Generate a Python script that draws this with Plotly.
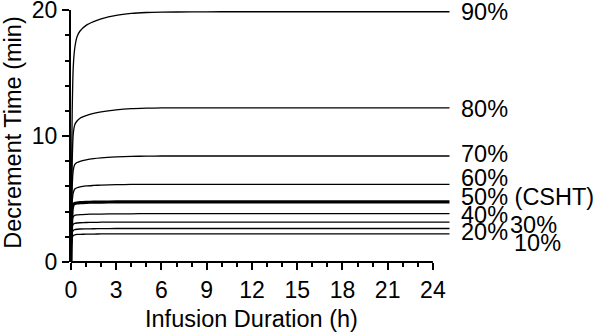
import plotly.graph_objects as go

# ---- data ----
hours = [0, 0.03, 0.08, 0.15, 0.25, 0.4, 0.6, 1, 1.5, 2, 3, 4, 5, 6, 8, 10, 12, 15, 18, 21, 24, 25.1]

dt_90 = [0, 6.0, 12.0, 15.5, 17.0, 17.9, 18.35, 18.8, 19.1, 19.32, 19.6, 19.75, 19.82, 19.85, 19.87, 19.88, 19.88, 19.88, 19.88, 19.88, 19.88, 19.88]
dt_80 = [0, 4.0, 8.0, 10.2, 10.9, 11.2, 11.42, 11.62, 11.8, 11.92, 12.08, 12.18, 12.22, 12.24, 12.25, 12.25, 12.25, 12.25, 12.25, 12.25, 12.25, 12.25]
dt_70 = [0, 3.0, 6.0, 7.3, 7.75, 7.9, 8.0, 8.12, 8.22, 8.28, 8.35, 8.39, 8.41, 8.42, 8.42, 8.42, 8.42, 8.42, 8.42, 8.42, 8.42, 8.42]
dt_60 = [0, 2.5, 4.8, 5.5, 5.8, 5.9, 5.97, 6.04, 6.08, 6.11, 6.14, 6.16, 6.17, 6.17, 6.17, 6.17, 6.17, 6.17, 6.17, 6.17, 6.17, 6.17]
dt_50 = [0, 2.5, 4.2, 4.55, 4.65, 4.69, 4.72, 4.74, 4.75, 4.76, 4.77, 4.77, 4.77, 4.77, 4.77, 4.77, 4.77, 4.77, 4.77, 4.77, 4.77, 4.77]
dt_40 = [0, 2.0, 3.3, 3.6, 3.7, 3.74, 3.77, 3.79, 3.8, 3.81, 3.82, 3.83, 3.84, 3.84, 3.84, 3.84, 3.84, 3.84, 3.84, 3.84, 3.84, 3.84]
dt_30 = [0, 1.8, 2.8, 3.0, 3.07, 3.1, 3.12, 3.14, 3.15, 3.16, 3.17, 3.17, 3.17, 3.17, 3.17, 3.17, 3.17, 3.17, 3.17, 3.17, 3.17, 3.17]
dt_20 = [0, 1.5, 2.3, 2.5, 2.57, 2.6, 2.62, 2.63, 2.64, 2.65, 2.66, 2.66, 2.66, 2.66, 2.66, 2.66, 2.66, 2.66, 2.66, 2.66, 2.66, 2.66]
dt_10 = [0, 1.3, 1.9, 2.1, 2.16, 2.19, 2.2, 2.21, 2.22, 2.23, 2.24, 2.24, 2.24, 2.24, 2.24, 2.24, 2.24, 2.24, 2.24, 2.24, 2.24, 2.24]

series_names = ["90%", "80%", "70%", "60%", "50% (CSHT)", "40%", "30%", "20%", "10%"]
series_values = [dt_90, dt_80, dt_70, dt_60, dt_50, dt_40, dt_30, dt_20, dt_10]

x_major_ticks = [0, 3, 6, 9, 12, 15, 18, 21, 24]
x_minor_ticks = [h for h in range(0, 25) if h % 3 != 0]
y_major_ticks = [0, 10, 20]
y_minor_ticks = [2, 4, 6, 8, 12, 14, 16, 18]

# ---- layout constants ----
W, H = 597, 334
ML, MR, MT, MB = 71, 146.4, 10, 71.5
X_RANGE = [0, 25.2]
Y_RANGE = [0, 20.02]
FONT = "Arial, Liberation Sans, sans-serif"
TICK_SIZE = 23
LABEL_SIZE = 23.5
TITLE_SIZE = 23.5

# label placement: (data y of label centre, pixel x of left edge)
label_pos = [(19.85, 459), (12.16, 459), (8.56, 459), (6.65, 459), (5.15, 459),
             (3.75, 459), (2.95, 508), (2.35, 459), (1.5, 512)]

fig = go.Figure()
for name, vals in zip(series_names, series_values):
    width = 3.2 if "CSHT" in name else 1.3
    fig.add_trace(go.Scatter(x=hours, y=vals, mode="lines", name=name,
                             line=dict(color="black", width=width, shape="spline", smoothing=0.6),
                             showlegend=False, hoverinfo="skip"))

plot_w = W - ML - MR
plot_h = H - MT - MB
annotations = []
for name, (ly, px) in zip(series_names, label_pos):
    annotations.append(dict(text=name, xref="paper", yref="y", x=(px - ML) / plot_w, y=ly,
                            xanchor="left", yanchor="middle", showarrow=False,
                            font=dict(family=FONT, size=LABEL_SIZE, color="black")))
# axis titles
x_title_centre = (12 - X_RANGE[0]) / (X_RANGE[1] - X_RANGE[0])
annotations.append(dict(text="Infusion Duration (h)", xref="paper", yref="paper",
                        x=x_title_centre, y=-(320 - (H - MB)) / plot_h,
                        xanchor="center", yanchor="middle", showarrow=False,
                        font=dict(family=FONT, size=TITLE_SIZE, color="black")))
annotations.append(dict(text="Decrement Time (min)", xref="paper", yref="paper",
                        x=-(ML - 13) / plot_w, y=0.5 - (133 - (MT + plot_h / 2)) / plot_h,
                        xanchor="center", yanchor="middle", textangle=-90, showarrow=False,
                        font=dict(family=FONT, size=TITLE_SIZE, color="black")))

fig.update_layout(
    width=W, height=H, margin=dict(l=ML, r=MR, t=MT, b=MB, autoexpand=False),
    paper_bgcolor="white", plot_bgcolor="white",
    font=dict(family=FONT, size=TICK_SIZE, color="black"),
    annotations=annotations,
    shapes=[dict(type="line", xref="x", yref="paper", x0=0, x1=24, y0=0, y1=0,
                 line=dict(color="black", width=2))],
    xaxis=dict(range=X_RANGE, showgrid=False, zeroline=False, showline=False, automargin=False,
               tickmode="array", tickvals=x_major_ticks, ticks="outside",
               ticklen=7, tickwidth=2, tickcolor="black", ticklabeloverflow="allow",
               tickfont=dict(family=FONT, size=TICK_SIZE, color="black"),
               minor=dict(tickmode="array", tickvals=x_minor_ticks, ticks="outside",
                          ticklen=4, tickwidth=2, tickcolor="black", showgrid=False)),
    yaxis=dict(range=Y_RANGE, showgrid=False, zeroline=False, showline=True, automargin=False,
               linecolor="black", linewidth=2,
               tickmode="array", tickvals=y_major_ticks, ticks="outside",
               ticklen=7, tickwidth=2, tickcolor="black", ticklabeloverflow="allow",
               tickfont=dict(family=FONT, size=TICK_SIZE, color="black"),
               minor=dict(tickmode="array", tickvals=y_minor_ticks, ticks="outside",
                          ticklen=4, tickwidth=2, tickcolor="black", showgrid=False)),
)

fig.write_html("out.html")
